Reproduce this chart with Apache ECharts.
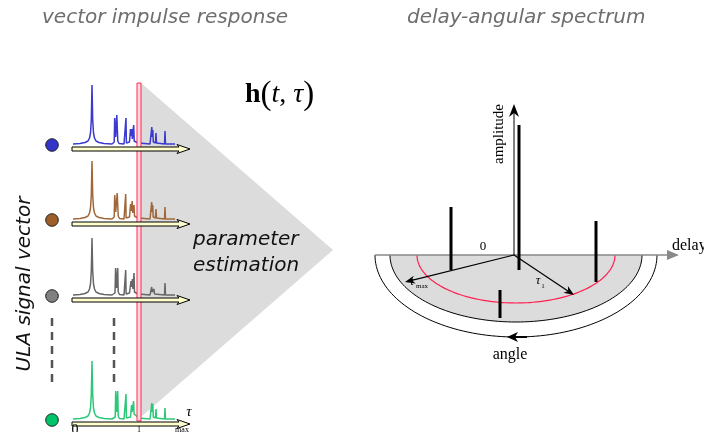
<!DOCTYPE html>
<html><head><meta charset="utf-8">
<script src="https://cdn.jsdelivr.net/npm/echarts@6/dist/echarts.min.js"></script>
<style>html,body{margin:0;padding:0;background:#fff}#c{width:704px;height:432px}</style>
</head><body><div id="c"></div>
<script>
// ---- data: impulse responses, [delay, amplitude] ----
const bluePts = [[1,1],[8,1.5],[13,2.5],[16,4],[17.5,7],[18.5,12],[19.3,25],[19.7,45],[20,60],[20.3,45],[20.7,25],[21.5,12],[22.5,7],[24,4],[27,2.5],[32,1.5],[40,1],[42.2,3],[42.7,27],[43.2,28],[43.7,8],[44.3,8],[44.8,30],[45.3,31],[45.8,4],[47,1.5],[52,1],[53.6,2],[54,27],[54.4,2],[56,1],[57.5,3],[58.5,16],[59,9],[59.8,16],[60.3,6],[61,7],[61.7,20],[62.2,4],[63.5,2],[65.8,2],[66.3,15],[66.8,2],[68,1],[78,1],[79.3,3],[79.8,18],[80.3,8],[80.8,15],[81.3,3],[83.5,2],[84,12],[84.5,2],[86,1],[92.5,1],[93,14],[93.5,1],[103,1]];
const brownPts = [[1,1],[8,1.5],[13,2.5],[16,4],[17.5,7],[18.5,12],[19.3,25],[19.7,44],[20,59],[20.3,44],[20.7,25],[21.5,12],[22.5,7],[24,4],[27,2.5],[32,1.5],[40,1],[42.2,3],[42.7,25],[43.2,26],[43.7,8],[44.3,8],[45.2,27],[45.7,27],[46.2,4],[47.5,1.5],[52,1],[53.3,2],[53.7,26],[54.1,2],[56,1],[57.5,3],[58.6,16],[59.2,9],[60.2,19],[60.7,7],[61.5,8],[62,15],[62.5,4],[63.5,2],[65.8,2],[66.3,14],[66.8,2],[68,1],[78,1],[79.2,3],[79.7,18],[80.2,8],[80.7,15],[81.2,3],[83.5,2],[84,11],[84.5,2],[86,1],[92.5,1],[93,13],[93.5,1],[103,1]];
const grayPts = [[1,1],[8,1.5],[13,2.5],[16,4],[17.5,7],[18.5,12],[19.3,25],[19.7,43],[20,58],[20.3,43],[20.7,25],[21.5,12],[22.5,7],[24,4],[27,2.5],[32,1.5],[40,1],[43,3],[43.6,28],[44.1,27],[44.6,8],[45.1,8],[45.7,28],[46.2,4],[47.5,1.5],[52,1],[53.3,2],[53.7,26],[54.1,2],[56,1],[57.5,3],[59,15],[59.5,9],[60.4,17],[60.9,7],[61.6,9],[62,23],[62.5,4],[63.5,2],[65.8,2],[66.3,13],[66.8,2],[68,1],[78,1],[79.2,3],[79.7,9],[80.2,4],[81.2,3],[82,7],[82.5,2],[84,1],[92.5,1],[93,13],[93.5,1],[103,1]];
const greenPts = [[1,1],[8,1.5],[13,2.5],[16,4],[17.5,7],[18.5,12],[19.3,25],[19.7,44],[20,59],[20.3,44],[20.7,25],[21.5,12],[22.5,7],[24,4],[27,2.5],[32,1.5],[40,1],[43.2,3],[43.7,29],[44.2,27],[44.7,8],[45.2,8],[45.7,29],[46.2,4],[47.5,1.5],[52,1],[53.6,2],[54,26],[54.4,2],[56,1],[58.5,3],[59.6,15],[60.1,8],[60.6,9],[61.6,19],[62.1,6],[63,5],[65.6,3],[66,13],[66.5,2],[68,1],[78,1],[79.3,3],[79.8,17],[80.3,8],[80.8,16],[81.3,3],[83.5,2],[84,11],[84.5,2],[86,1],[92.5,1],[93,12],[93.5,1],[103,1]];
const traceData = [bluePts, brownPts, grayPts, greenPts];
const traceColors = ['#3a3ad0', '#a0683a', '#666666', '#2cc878'];
const dotColors = ['#3434c8', '#9c5f2a', '#808080', '#00c468'];
const traceBase = [145, 220, 296, 420];

// ---- data: delay-angular spectrum, ground position [x, depth] and amplitude ----
const spikeGround = [[-63, 15], [5, 15], [82, 27], [-14, 63]];
const spikeAmp = [63, 145, 61, 28];

const titles = ['vector impulse response', 'delay-angular spectrum'];
const estLabel = ['parameter', 'estimation'];

// ---- layout constants ----
const OX = 514, OY = 255, CX = 516;
const grids = [], xAxes = [], yAxes = [], series = [];
traceBase.forEach((b, i) => {
  grids.push({left: 72, top: b - 62, width: 118, height: 62});
  xAxes.push({type: 'value', gridIndex: i, min: 0, max: 118, show: false});
  yAxes.push({type: 'value', gridIndex: i, min: 0, max: 62, show: false});
  series.push({type: 'line', xAxisIndex: i, yAxisIndex: i, data: traceData[i], showSymbol: false,
    lineStyle: {color: traceColors[i], width: 1.5}, z: 2, silent: true});
});
grids.push({left: 370, top: 90, width: 334, height: 260});
xAxes.push({type: 'value', gridIndex: 4, min: -144, max: 190, show: false});
yAxes.push({type: 'value', gridIndex: 4, min: -165, max: 95, inverse: true, show: false});
series.push({type: 'custom', xAxisIndex: 4, yAxisIndex: 4, z: 5,
  data: spikeGround.map((g, i) => [g[0], g[1], spikeAmp[i]]),
  renderItem: (params, api) => {
    const p = api.coord([api.value(0), api.value(1)]);
    const h = api.size([0, api.value(2)])[1];
    return {type: 'line', shape: {x1: p[0], y1: p[1], x2: p[0], y2: p[1] - h},
      style: {stroke: '#000', lineWidth: 3}};
  }});

const g = [];
// gray wedge
g.push({type: 'polygon', z: 0, shape: {points: [[141, 83], [333, 250], [141, 417]]}, style: {fill: '#dcdcdc'}});
// red marker
g.push({type: 'rect', z: 10, shape: {x: 137, y: 83, width: 4, height: 338}, style: {fill: '#ffd8e0', stroke: '#ff2a55', lineWidth: 1}});
// axis arrows and array element dots
traceBase.forEach((b, i) => {
  const y = b + 4;
  g.push({type: 'polygon', z: 11, shape: {points: [[72, y - 2], [179, y - 2], [177, y - 4.5], [190, y], [177, y + 4.5], [179, y + 2], [72, y + 2]]},
    style: {fill: '#ffffcc', stroke: '#000', lineWidth: 1}});
  g.push({type: 'circle', z: 11, shape: {cx: 52, cy: b, r: 6.3}, style: {fill: dotColors[i], stroke: '#222', lineWidth: 1}});
});
// dashed lines
g.push({type: 'line', z: 11, shape: {x1: 52, y1: 318, x2: 52, y2: 388}, style: {stroke: '#555', lineWidth: 2.5, lineDash: [8, 6]}});
g.push({type: 'line', z: 11, shape: {x1: 114, y1: 318, x2: 114, y2: 388}, style: {stroke: '#555', lineWidth: 2.5, lineDash: [8, 6]}});
// titles
g.push({type: 'text', z: 12, style: {text: titles[0], x: 42, y: 18, font: 'italic 20px "DejaVu Sans"', fill: '#6e6e6e', verticalAlign: 'middle'}});
g.push({type: 'text', z: 12, style: {text: titles[1], x: 407, y: 18, font: 'italic 20px "DejaVu Sans"', fill: '#6e6e6e', verticalAlign: 'middle'}});
g.push({type: 'text', z: 12, x: 25, y: 284, rotation: Math.PI / 2,
  style: {text: 'ULA signal vector', x: 0, y: 0, font: 'italic 20px "DejaVu Sans"', fill: '#111', align: 'center', verticalAlign: 'middle'}});
g.push({type: 'text', z: 12, style: {text: estLabel[0], x: 193, y: 240, font: 'italic 20px "DejaVu Sans"', fill: '#111', verticalAlign: 'middle'}});
g.push({type: 'text', z: 12, style: {text: estLabel[1], x: 193, y: 266, font: 'italic 20px "DejaVu Sans"', fill: '#111', verticalAlign: 'middle'}});
// h(t,tau)
g.push({type: 'text', z: 12, style: {text: '{b|h}{p|(}{i|t}{n|,}{i| τ}{p|)}', x: 245, y: 95, verticalAlign: 'middle',
  rich: {b: {font: 'bold 28px "Liberation Serif"', fill: '#000'}, p: {font: '33px "Liberation Serif"', fill: '#000'},
         i: {font: 'italic 28px "Liberation Serif"', fill: '#000'}, n: {font: '28px "Liberation Serif"', fill: '#000'}}}});
// bottom axis labels
g.push({type: 'text', z: 12, style: {text: '0', x: 75, y: 430, font: '14px "Liberation Serif"', fill: '#000', align: 'center', verticalAlign: 'middle'}});
g.push({type: 'text', z: 12, style: {text: '1', x: 139, y: 430, font: '8px "Liberation Serif"', fill: '#000', align: 'center', verticalAlign: 'middle'}});
g.push({type: 'text', z: 12, style: {text: 'max', x: 182, y: 430, font: '8px "Liberation Serif"', fill: '#000', align: 'center', verticalAlign: 'middle'}});
g.push({type: 'text', z: 12, style: {text: 'τ', x: 189, y: 412, font: 'italic 15px "Liberation Serif"', fill: '#000', align: 'center', verticalAlign: 'middle'}});

// ---- right diagram decorations ----
function halfEll(rx, ry) {
  const pts = [];
  for (let k = 0; k <= 90; k++) {
    const a = Math.PI * k / 90;
    pts.push([CX + rx * Math.cos(a), OY + ry * Math.sin(a)]);
  }
  return pts;
}
g.push({type: 'polygon', z: 1, shape: {points: halfEll(126, 67)}, style: {fill: '#dcdcdc'}});
g.push({type: 'polyline', z: 2, shape: {points: halfEll(141, 82)}, style: {stroke: '#000', lineWidth: 1, fill: null}});
g.push({type: 'polyline', z: 2, shape: {points: halfEll(126, 67)}, style: {stroke: '#000', lineWidth: 1, fill: null}});
g.push({type: 'polyline', z: 2, shape: {points: halfEll(99, 48)}, style: {stroke: '#ff2050', lineWidth: 1.2, fill: null}});
g.push({type: 'line', z: 3, shape: {x1: 375, y1: OY, x2: 670, y2: OY}, style: {stroke: '#888', lineWidth: 1.5}});
g.push({type: 'polygon', z: 3, shape: {points: [[667, OY - 5], [679, OY], [667, OY + 5]]}, style: {fill: '#888'}});
// vertical axis
g.push({type: 'line', z: 6, shape: {x1: OX, y1: OY, x2: OX, y2: 107}, style: {stroke: '#000', lineWidth: 1}});
g.push({type: 'polygon', z: 6, shape: {points: [[OX, 104], [OX + 5, 117], [OX, 113], [OX - 5, 117]]}, style: {fill: '#000'}});
// angle arrow
g.push({type: 'line', z: 6, shape: {x1: 510, y1: 337, x2: 527, y2: 337}, style: {stroke: '#000', lineWidth: 2}});
g.push({type: 'polygon', z: 6, shape: {points: [[507, 337], [518, 332], [515, 337], [518, 342]]}, style: {fill: '#000'}});
// radial arrows
function arrow(x2, y2) {
  const dx = x2 - OX, dy = y2 - OY, L = Math.hypot(dx, dy), ux = dx / L, uy = dy / L;
  const bx = x2 - ux * 10, by = y2 - uy * 10;
  g.push({type: 'line', z: 6, shape: {x1: OX, y1: OY, x2: x2 - ux * 6, y2: y2 - uy * 6}, style: {stroke: '#000', lineWidth: 1.2}});
  g.push({type: 'polygon', z: 6, shape: {points: [[x2, y2], [bx - uy * 4, by + ux * 4], [x2 - ux * 7, y2 - uy * 7], [bx + uy * 4, by - ux * 4]]}, style: {fill: '#000'}});
}
arrow(405, 282);
arrow(574, 295);
// labels
const serif = '"Liberation Serif"';
g.push({type: 'text', z: 7, x: 499, y: 134, rotation: Math.PI / 2,
  style: {text: 'amplitude', x: 0, y: 0, font: '15px ' + serif, fill: '#000', align: 'center', verticalAlign: 'middle'}});
g.push({type: 'text', z: 7, style: {text: 'delay', x: 672, y: 246, font: '16px ' + serif, fill: '#000', verticalAlign: 'middle'}});
g.push({type: 'text', z: 7, style: {text: '0', x: 483, y: 247, font: '13px ' + serif, fill: '#000', align: 'center', verticalAlign: 'middle'}});
g.push({type: 'text', z: 7, style: {text: 'angle', x: 510, y: 355, font: '16px ' + serif, fill: '#000', align: 'center', verticalAlign: 'middle'}});
g.push({type: 'text', z: 7, style: {text: 'τ', x: 538, y: 281, font: 'italic 13px ' + serif, fill: '#000', align: 'center', verticalAlign: 'middle'}});
g.push({type: 'text', z: 7, style: {text: '1', x: 543, y: 286, font: '7px ' + serif, fill: '#000', align: 'center', verticalAlign: 'middle'}});
g.push({type: 'text', z: 7, style: {text: 'τ', x: 412, y: 282, font: 'italic 12px ' + serif, fill: '#000', align: 'center', verticalAlign: 'middle'}});
g.push({type: 'text', z: 7, style: {text: 'max', x: 422, y: 286, font: '7px ' + serif, fill: '#000', align: 'center', verticalAlign: 'middle'}});

const chart = echarts.init(document.getElementById('c'), null, {renderer: 'canvas'});
chart.setOption({animation: false, backgroundColor: '#fff', grid: grids, xAxis: xAxes, yAxis: yAxes, series: series, graphic: {elements: g}});
</script></body></html>
